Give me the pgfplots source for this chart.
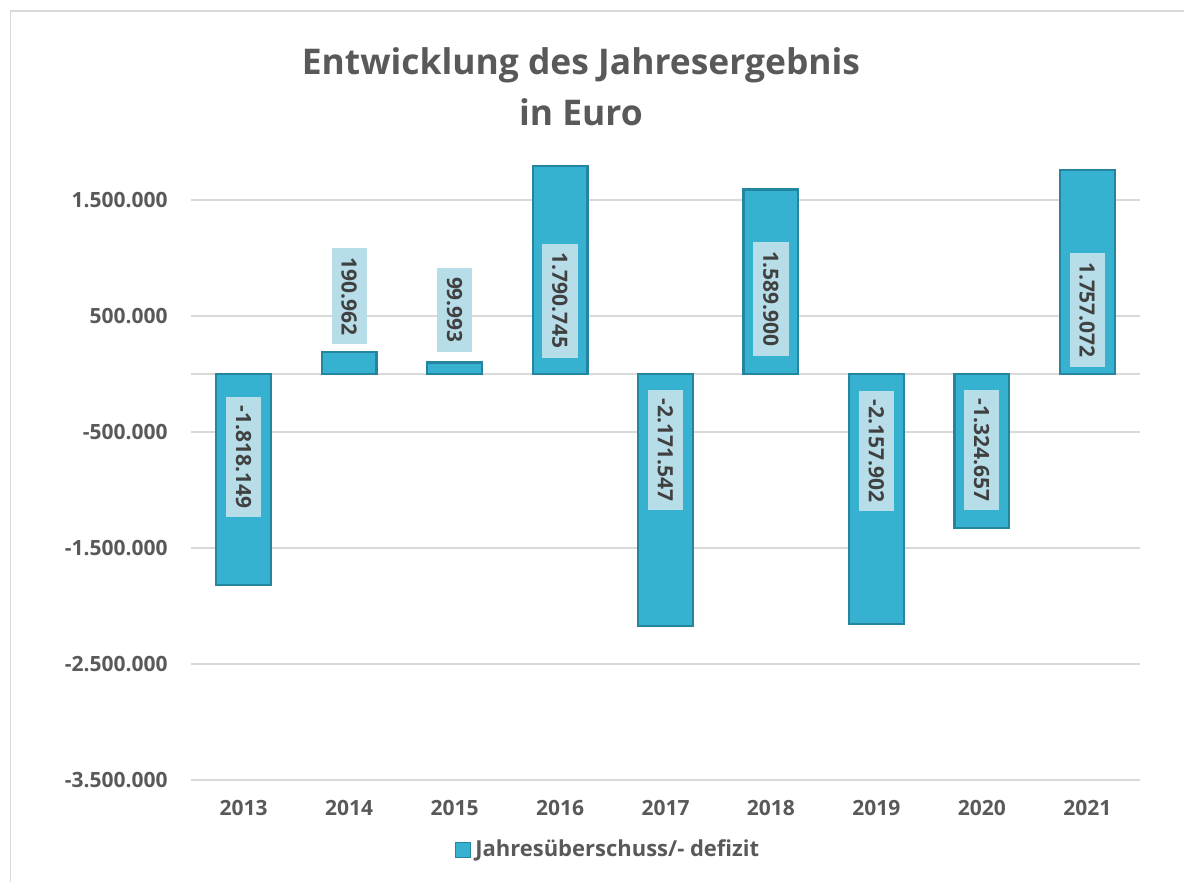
\documentclass[border=0pt]{standalone}
\usepackage{pgfplots}
\pgfplotsset{compat=1.18}
\usepackage{fontspec}
\setmainfont{Open Sans}
\definecolor{txt}{HTML}{595959}
\definecolor{gridc}{HTML}{D9D9D9}
\definecolor{bardark}{HTML}{2485A0}
\definecolor{barmid}{HTML}{36B1D0}
\definecolor{labbg}{HTML}{B7DDE8}
\definecolor{labtxt}{HTML}{404040}
\begin{document}
\begin{tikzpicture}[x=1pt,y=1pt]
\path[use as bounding box] (-95.5,-51) rectangle (496.5,390);
\draw[gridc, line width=0.8pt] (-90.25,-51) -- (-90.25,384.5) -- (496.5,384.5);
\node[txt, font=\fontsize{17.7}{21}\selectfont\bfseries] at (195,357.5) {Entwicklung des Jahresergebnis};
\node[txt, font=\fontsize{17.7}{21}\selectfont\bfseries] at (195,334) {in Euro};
\begin{axis}[
  at={(0,0)}, anchor=south west,
  scale only axis, width=474.5pt, height=319pt,
  xmin=-0.5, xmax=8.5, ymin=-3500000, ymax=2000000,
  axis line style={draw=none},
  major tick length=0pt,
  xtick={0,...,8},
  xticklabels={2013,2014,2015,2016,2017,2018,2019,2020,2021},
  ytick={-3500000,-2500000,-1500000,-500000,500000,1500000},
  yticklabels={-3.500.000,-2.500.000,-1.500.000,-500.000,500.000,1.500.000},
  scaled y ticks=false,
  ymajorgrids,
  grid style={gridc, line width=0.75pt},
  extra y ticks={0}, extra y tick labels={},
  extra y tick style={grid style={gridc, line width=1.3pt}},
  tick label style={txt, font=\fontsize{10.5}{12}\selectfont\bfseries},
  yticklabel style={anchor=east, inner sep=0pt, xshift=-11.5pt},
  xticklabel style={anchor=center, inner sep=0pt, yshift=-14pt},
  legend style={at={(0.4405,-0.1097)}, anchor=center, draw=none, fill=none,
    font=\fontsize{11}{13}\selectfont\bfseries, text=txt,
    legend cell align=left, inner sep=0pt},
  legend image code/.code={\fill[barmid, draw=bardark, line width=0.6pt] (-1pt,-3.8pt) rectangle (6.6pt,3.8pt);},
  clip=false,
]
\addplot[ybar, bar width=0.52, draw=bardark, line width=1.1pt, fill=barmid]
  coordinates {(0,-1818149) (1,190962) (2,99993) (3,1790745) (4,-2171547)
               (5,1589900) (6,-2157902) (7,-1324657) (8,1757072)};
\addlegendentry{Jahresüberschuss/- defizit}
\addplot[only marks, mark=*, mark size=0pt, mark options={draw=none,fill=none},
  forget plot,
  nodes near coords, point meta=explicit symbolic,
  nodes near coords style={anchor=center, rotate=-90, fill=labbg, text=labtxt,
    font=\fontsize{10.5}{12}\selectfont\bfseries, inner xsep=4.5pt, inner ysep=5pt,
    text height=7.6pt, text depth=0pt}]
  table[meta=lab] {
x y lab
0 -716000 -1.818.149
1 672000 190.962
2 552000 99.993
3 630000 1.790.745
4 -655000 -2.171.547
5 647000 1.589.900
6 -664000 -2.157.902
7 -655000 -1.324.657
8 552000 1.757.072
};
\end{axis}
\end{tikzpicture}
\end{document}
